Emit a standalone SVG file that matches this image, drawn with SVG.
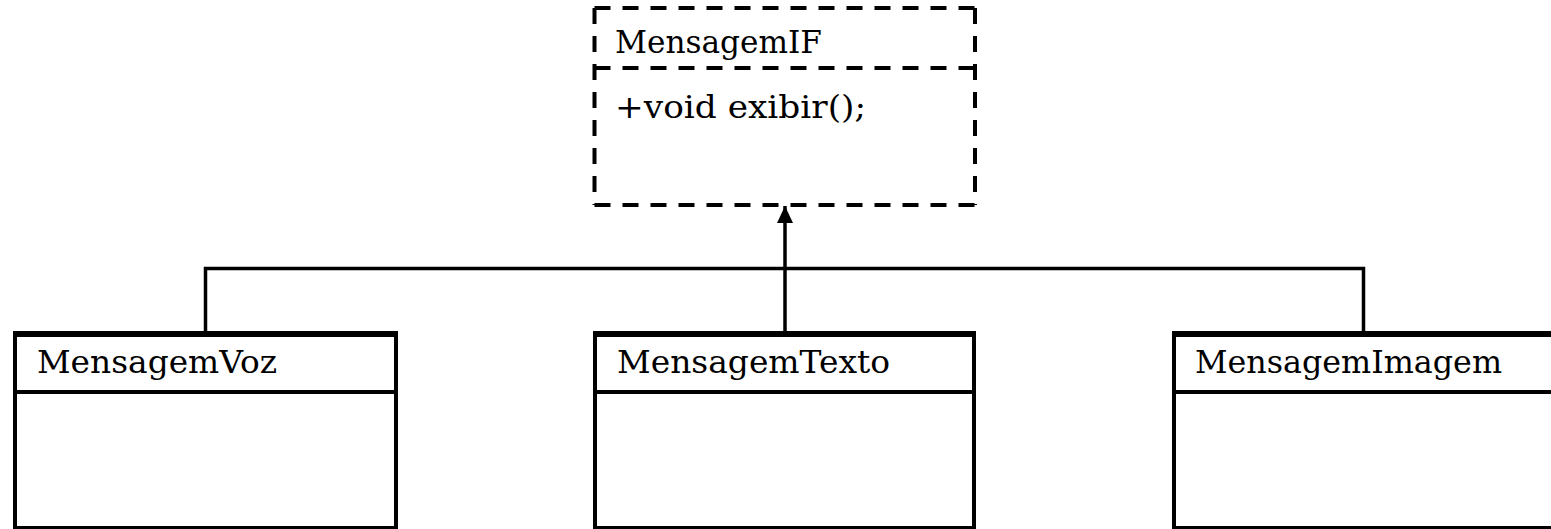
<svg xmlns="http://www.w3.org/2000/svg" width="1551" height="529" viewBox="0 0 1551 529">
<style>
.lbl{font-family:"DejaVu Serif","Liberation Serif",serif;font-size:31px;fill:#000}
.dash{fill:none;stroke:#000;stroke-width:4;stroke-dasharray:16 12}
.box{fill:#fff;stroke:#000;stroke-width:4}
.conn{fill:none;stroke:#000;stroke-width:3.5}
</style>
<defs>
<marker id="tri" markerUnits="userSpaceOnUse" markerWidth="18" markerHeight="18" refX="17" refY="8" orient="auto">
<path d="M0,0 L17,8 L0,16 Z" fill="#000"/>
</marker>
</defs>
<rect width="1551" height="529" fill="#fff"/>
<g id="connectors">
<path class="conn" d="M205.5,332 V268.5 H1363.5 V332"/>
<path class="conn" d="M785,332 V206" marker-end="url(#tri)"/>
</g>
<g id="MensagemIF">
<path class="dash" d="M594.5,8 H975" stroke-dasharray="20 8"/>
<path class="dash" d="M594.5,8 V205"/>
<path class="dash" d="M975,8 V205"/>
<path class="dash" d="M594.5,205 H975"/>
<path class="dash" d="M594.5,68 H975"/>
<text class="lbl" x="615" y="53" textLength="207" lengthAdjust="spacingAndGlyphs">MensagemIF</text>
<text class="lbl" x="615" y="118" textLength="251" lengthAdjust="spacingAndGlyphs">+void exibir();</text>
</g>
<g id="MensagemVoz">
<rect class="box" x="15" y="334" width="381" height="194"/>
<path d="M13,334 H398" stroke="#000" stroke-width="6"/>
<path d="M15,392 H396" stroke="#000" stroke-width="4"/>
<text class="lbl" x="37" y="373" textLength="240" lengthAdjust="spacingAndGlyphs">MensagemVoz</text>
</g>
<g id="MensagemTexto">
<rect class="box" x="595" y="334" width="379" height="194"/>
<path d="M593,334 H976" stroke="#000" stroke-width="6"/>
<path d="M595,392 H974" stroke="#000" stroke-width="4"/>
<text class="lbl" x="617" y="373" textLength="273" lengthAdjust="spacingAndGlyphs">MensagemTexto</text>
</g>
<g id="MensagemImagem">
<rect class="box" x="1174" y="334" width="400" height="194"/>
<path d="M1172,334 H1560" stroke="#000" stroke-width="6"/>
<path d="M1174,392 H1560" stroke="#000" stroke-width="4"/>
<text class="lbl" x="1195" y="373" textLength="307" lengthAdjust="spacingAndGlyphs">MensagemImagem</text>
</g>
</svg>
